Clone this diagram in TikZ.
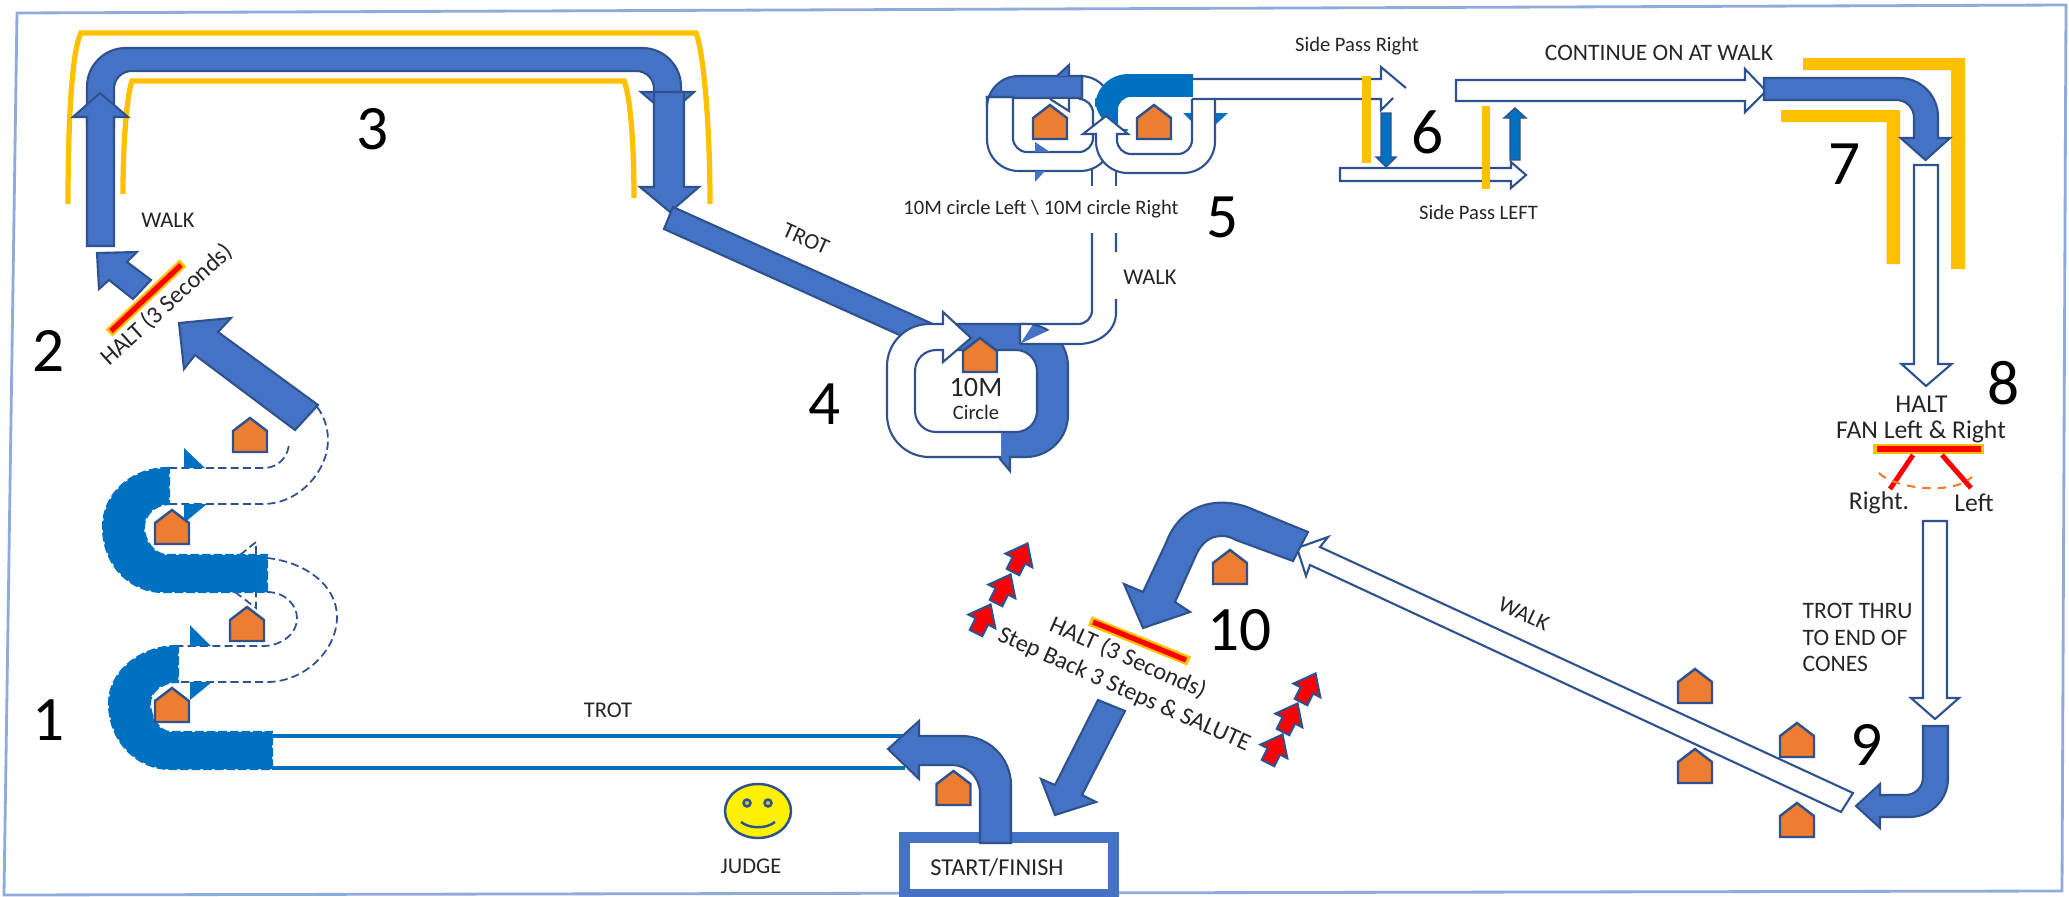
\documentclass[tikz,border=0pt]{standalone}
\usepackage{fontspec}
\setmainfont{Carlito}
\usepackage{xcolor}
\usetikzlibrary{positioning}
\definecolor{arrowFill}{HTML}{4472C4}
\definecolor{arrowEdge}{HTML}{2F528F}
\definecolor{routeBlue}{HTML}{0070C0}
\definecolor{coneOrange}{HTML}{ED7D31}
\definecolor{barYellow}{HTML}{FFC000}
\definecolor{frameBlue}{HTML}{8FAADC}
\tikzset{
  courseArrow/.style={fill=arrowFill, draw=arrowEdge, line width=0.6pt, line join=miter},
  whiteArrow/.style={fill=white, draw=arrowEdge, line width=0.6pt},
  routeFill/.style={fill=routeBlue, draw=routeBlue, line width=0.6pt, dash pattern=on 2.5pt off 0.8pt},
  routeDash/.style={draw=arrowEdge, line width=0.5pt, dash pattern=on 2.3pt off 1.2pt},
  coneMark/.style={fill=coneOrange, draw=arrowEdge, line width=0.7pt},
  redStep/.style={fill=red, draw=arrowEdge, line width=0.6pt},
  railThin/.style={draw=barYellow, line width=1.5pt},
  haltYellow/.style={draw=barYellow, line width=2.8pt},
  haltRed/.style={draw=red, line width=1.5pt},
  labelText/.style={font=\fontsize{6.4}{7.7}\selectfont, text=black!85, inner sep=0pt},
  labelSmall/.style={font=\fontsize{5.85}{7}\selectfont, text=black!85, inner sep=0pt},
  labelWide/.style={font=\fontsize{6.9}{8}\selectfont, text=black!85, inner sep=0pt},
  labelLarge/.style={font=\fontsize{7.3}{8.5}\selectfont, text=black!85, inner sep=0pt},
  stepNum/.style={font=\fontsize{18}{20}\selectfont, text=black, inner sep=0pt}
}
\begin{document}
\begin{tikzpicture}[x=0.01cm, y=-0.01cm]
  \useasboundingbox (0,0) rectangle (2069,897);
  \fill[white] (0,0) rectangle (2069,897);
  \draw[frameBlue, line width=0.8pt] (17,13) -- (2066,5) -- (2062,891) -- (4,895) -- cycle;

  % yellow rails at 3
  \draw[railThin] (68,204) .. controls (68,120) and (72,50) .. (81,33) -- (696,33) .. controls (703,50) and (710,120) .. (710,204);
  \draw[railThin] (123,194) .. controls (123,140) and (127,95) .. (132,81) -- (624,81) .. controls (630,95) and (634,140) .. (634,198);

  % 3 course
  \draw[courseArrow] (87,125) [rounded corners=11pt] -- (87,48) -- (681,48) [sharp corners] -- (681,92) -- (694,92) -- (668,115) -- (641,92) -- (654,92) [rounded corners=5pt] -- (654,71) -- (114,71) [sharp corners] -- (114,125) -- cycle;
  \draw[courseArrow] (87,246) -- (87,117) -- (73,117) -- (100,93) -- (128,117) -- (114,117) -- (114,246) -- cycle;
  \draw[courseArrow] (654,92) -- (684,92) -- (684,187) -- (699,187) -- (670,212) -- (640,187) -- (654,187) -- cycle;

  % 2 halt
  \draw[courseArrow] (151,280) -- (127,262) -- (137,252) -- (97,253) -- (99,289) -- (109,280) -- (133,299) -- cycle;
  \draw[haltYellow] (109,333) -- (183,263);
  \draw[haltRed] (111,331) -- (181,265);
  \draw[courseArrow] (318,405) -- (218,332) -- (231,318) -- (179,323) -- (184,369) -- (195,355) -- (295,430) -- cycle;

  % 1 serpentine
  \draw[routeDash] (169,468) -- (263,468) .. controls (280,468) and (289,455) .. (289,442);
  \draw[routeDash] (169,504) -- (263,504) .. controls (300,504) and (328,470) .. (328,440) .. controls (328,425) and (322,413) .. (317,407);
  \draw[routeDash] (267,558) .. controls (305,562) and (337,585) .. (337,617) .. controls (337,650) and (305,682) .. (267,682) -- (177,682);
  \draw[routeDash] (267,592) .. controls (285,592) and (297,605) .. (297,618) .. controls (297,635) and (280,646) .. (263,646) -- (178,646);
  \draw[routeDash] (240,555) -- (256,542) -- (256,555);
  \draw[routeDash] (235,592) -- (256,608) -- (256,592);
  \draw[routeFill] (169,468) .. controls (130,468) and (103,495) .. (103,527) .. controls (103,565) and (130,592) .. (163,592) -- (267,592) -- (267,555) -- (167,555) .. controls (155,555) and (144,542) .. (144,527) .. controls (144,515) and (155,504) .. (169,504) -- cycle;
  \draw[routeFill] (178,646) .. controls (140,646) and (109,672) .. (109,703) .. controls (109,742) and (138,769) .. (170,769) -- (272,769) -- (272,732) -- (170,732) .. controls (160,732) and (150,718) .. (150,703) .. controls (150,693) and (160,682) .. (178,682) -- cycle;
  \fill[routeBlue] (184,448) -- (205,468) -- (184,468) -- cycle;
  \fill[routeBlue] (207,504) -- (184,523) -- (184,504) -- cycle;
  \fill[routeBlue] (190,625) -- (211,646) -- (190,646) -- cycle;
  \fill[routeBlue] (212,682) -- (190,700) -- (190,682) -- cycle;
  \draw[routeBlue, line width=1.2pt] (272,736) -- (905,736) (272,768) -- (905,768);

  % start box
  \draw[draw=arrowFill, line width=3.1pt] (904.5,837.5) rectangle (1113.5,894);
  \draw[courseArrow] (980,843) [rounded corners=8pt] -- (980,765) [sharp corners] -- (919,765) -- (919,779) -- (888,749) -- (919,721) -- (919,736) [rounded corners=14pt] -- (1011,736) [sharp corners] -- (1011,843) -- cycle;

  % 4 circle
  \draw[courseArrow] (673,207) -- (935,325) -- (904,337) -- (664,229) -- cycle;
  \draw[courseArrow] (945,324) [rounded corners=12pt] -- (1068,324) -- (1068,457) [sharp corners] -- (1010,457) -- (1010,471) -- (1000,459) -- (1000,432) [rounded corners=6pt] -- (1037,432) -- (1037,350) [sharp corners] -- (950,350) -- cycle;
  \draw[whiteArrow] (1001,457) [rounded corners=12pt] -- (887,457) -- (887,324) [sharp corners] -- (943,324) -- (943,312) -- (971,338) -- (943,362) -- (943,350) [rounded corners=6pt] -- (915,350) -- (915,432) [sharp corners] -- (1001,432);
  \draw[whiteArrow] (1020,344) -- (1078,344) .. controls (1100,344) and (1116,330) .. (1116,313) -- (1116,299) (1116,252) -- (1116,233) (1092,233) -- (1092,310) .. controls (1092,318) and (1086,324) .. (1078,324) -- (1020,324) -- (1020,344);
  \draw[arrowEdge, line width=0.8pt] (1092,186) -- (1092,168) (1116,186) -- (1116,168);

  % 5 circles
  \draw[whiteArrow] (987,97) [rounded corners=9pt] -- (987,171) -- (1112,171) -- (1112,76) [sharp corners] -- (1082,76) -- (1082,99) [rounded corners=4pt] -- (1093,99) -- (1093,152) -- (1013,152) [sharp corners] -- (1013,97) -- cycle;
  \draw[courseArrow] (987,97) [rounded corners=9pt] -- (987,76) [sharp corners] -- (1082,76) -- (1082,98) -- (1013,98) -- (1013,97) -- cycle;
  \draw[courseArrow] (1057,76) -- (1069,65) -- (1069,76);
  \draw[whiteArrow] (1050,99) -- (1069,111) -- (1069,99);
  \fill[arrowFill] (1035,142) -- (1050,152) -- (1035,152) -- cycle;
  \fill[arrowFill] (1035,182) -- (1035,171) -- (1045,171) -- cycle;
  \draw[routeBlue, fill=routeBlue, line width=0.5pt] (1192,75) [rounded corners=9pt] -- (1096,75) -- (1096,130) [sharp corners] -- (1117,130) [rounded corners=4pt] -- (1117,96) [sharp corners] -- (1192,96) -- cycle;
  \fill[routeBlue] (1215,113) -- (1228,113) -- (1215,125) -- cycle;
  \fill[routeBlue] (1183,113) -- (1192,113) -- (1192,122) -- cycle;
  \draw[whiteArrow] (1215,99) [rounded corners=9pt] -- (1215,173) -- (1096,173) [sharp corners] -- (1096,134) -- (1083,134) -- (1106,116) -- (1128,134) -- (1117,134) [rounded corners=4pt] -- (1117,154) -- (1192,154) [sharp corners] -- (1192,99);

  % 6 side pass
  \draw[whiteArrow] (1192,79) -- (1381,79) -- (1381,67) -- (1406,88) (1393,98) -- (1381,110) -- (1381,99) -- (1192,99);
  \draw[draw=arrowEdge, fill=routeBlue, line width=0.4pt] (1381,113) -- (1391,113) -- (1391,157) -- (1396,157) -- (1386,167) -- (1376,157) -- (1381,157) -- cycle;
  \draw[whiteArrow] (1340,168) -- (1511,168) -- (1511,162) -- (1526,175) -- (1511,188) -- (1511,181) -- (1340,181) -- cycle;
  \draw[barYellow, line width=2.5pt] (1366.5,76) -- (1366.5,163);
  \draw[barYellow, line width=2.5pt] (1486,106) -- (1486,189);
  \draw[draw=arrowEdge, fill=routeBlue, line width=0.4pt] (1510,160) -- (1520,160) -- (1520,118) -- (1526,118) -- (1515,108) -- (1504,118) -- (1510,118) -- cycle;

  % 7 corner
  \fill[barYellow] (1803,58) -- (1965,58) -- (1965,269) -- (1951,269) -- (1951,70) -- (1803,70) -- cycle;
  \fill[barYellow] (1781,110) -- (1900,110) -- (1900,264) -- (1886.5,264) -- (1886.5,122) -- (1781,122) -- cycle;
  \draw[whiteArrow] (1456,80) -- (1745,80) -- (1745,69) -- (1766,91) -- (1745,112) -- (1745,101) -- (1456,101) -- cycle;
  \draw[courseArrow] (1764,78) [rounded corners=11pt] -- (1938,78) [sharp corners] -- (1938,138) -- (1950,138) -- (1925.5,160) -- (1900.6,138) -- (1914,138) [rounded corners=5pt] -- (1914,100) [sharp corners] -- (1764,100) -- cycle;

  % 8 fan
  \draw[whiteArrow] (1914,165) -- (1938,165) -- (1938,364) -- (1951.6,364) -- (1926,386) -- (1901.5,364) -- (1914,364) -- cycle;
  \draw[haltYellow] (1873,449) -- (1984,449);
  \draw[haltRed] (1877,449) -- (1981,449);
  \draw[red, line width=1.4pt] (1913,455) -- (1890,489) (1942,455) -- (1971,488);
  \draw[coneOrange, line width=0.6pt, dash pattern=on 2.4pt off 2pt] (1879,473) .. controls (1892,487) and (1950,497) .. (1972,477);

  % 9 and 10
  \draw[whiteArrow] (1923,521) -- (1947,521) -- (1947,698) -- (1959,698) -- (1935,719) -- (1911,698) -- (1923,698) -- cycle;
  \draw[courseArrow] (1923,726) -- (1948,726) [rounded corners=11pt] -- (1948,817) [sharp corners] -- (1880,817) -- (1880,828) -- (1856,806) -- (1880,784) -- (1880,795) [rounded corners=5pt] -- (1923,795) [sharp corners] -- cycle;
  \foreach \cx/\cy in {250/452, 172/544, 247/641, 172/722, 980/372, 1050/139, 1154/139, 953.5/805, 1230/584, 1695/703, 1797/757, 1695/783, 1797/837}
    \draw[coneMark] (\cx-17,\cy) -- (\cx-17,\cy-21) -- (\cx,\cy-34) -- (\cx+17,\cy-21) -- (\cx+17,\cy) -- cycle;
  \draw[whiteArrow] (1853,793) -- (1841,812) -- (1310,565) -- (1306,576) -- (1297,548) -- (1328,537) -- (1320,547) -- cycle;
  \draw[courseArrow] (1308,532) -- (1247,507) .. controls (1215,496) and (1180,505) .. (1166,543) -- (1143,592) -- (1124,584) -- (1143,628) -- (1190,612) -- (1175,602) -- (1196,555) .. controls (1205,535) and (1222,532) .. (1236,540) -- (1293,561) -- cycle;
  \draw[haltYellow] (1090,621) -- (1189,661);
  \draw[haltRed] (1093,622) -- (1186,660);
  \draw[courseArrow] (1098,700) -- (1125,711) -- (1082,795) -- (1096,802) -- (1055,815) -- (1041,779) -- (1055,785) -- cycle;
  \foreach \tx/\ty in {976/633, 996/603, 1013/572, 1268/763, 1283/732, 1301/702}
    \draw[redStep, shift={(\tx,\ty)}, rotate=-27] (-7,0) -- (-7,-13) -- (-15,-13) -- (0,-32) -- (15,-13) -- (7,-13) -- (7,0) -- cycle;

  % judge
  \draw[fill=yellow, draw=arrowEdge, line width=0.7pt] (758,811) ellipse [x radius=33, y radius=27];
  \draw[fill=yellow!70!arrowEdge, draw=arrowEdge, line width=0.7pt] (747,803) circle (3.5) (768,803) circle (3.5);
  \draw[arrowEdge, line width=0.7pt] (741,822) .. controls (750,829) and (766,829) .. (775,822);

  % numbers
  \node[stepNum] (numOne) at (49,720) {1};
  \node[stepNum] (numTwo) at (49,351) {2};
  \node[stepNum] (numThree) at (373,129) {3};
  \node[stepNum] (numFour) at (825,404) {4};
  \node[stepNum] (numFive) at (1223,217) {5};
  \node[stepNum] (numSix) at (1428,132) {6};
  \node[stepNum] (numSeven) at (1845,164) {7};
  \node[stepNum] (numEight) at (2003.5,383) {8};
  \node[stepNum] (numNine) at (1867,745) {9};
  \node[stepNum] (numTen) at (1239.5,630) {10};

  % labels
  \node[labelText] (walkOne) at (168,220) {WALK};
  \node[labelWide, rotate=42] (haltTwo) at (167,305) {HALT (3 Seconds)};
  \node[labelText, rotate=-24] (trotFour) at (806,239) {TROT};
  \node[labelText] (trotOne) at (608,710) {TROT};
  \node[labelText] (judgeLabel) at (751,866) {JUDGE};
  \node[labelWide] (startLabel) at (997,868) {START/FINISH};
  \node[labelLarge, font=\fontsize{8}{9}\selectfont] (tenMeter) at (976,387) {10M};
  \node[labelSmall] (circleLabel) at (976,412) {Circle};
  \node[labelSmall] (circleLeftRight) at (1041,209) {10M circle Left \textbackslash{} 10M circle Right};
  \node[labelText] (walkFive) at (1150,277) {WALK};
  \node[labelSmall] (passRight) at (1357,46) {Side Pass Right};
  \node[labelSmall] (passLeft) at (1478.5,212) {Side Pass LEFT};
  \node[labelWide, font=\fontsize{6.7}{8}\selectfont] (continueWalk) at (1659,53) {CONTINUE ON AT WALK};
  \node[labelLarge] (haltEight) at (1921.6,404) {HALT};
  \node[labelLarge] (fanLabel) at (1921,432) {FAN Left \& Right};
  \node[labelLarge] (rightLabel) at (1879,503) {Right.};
  \node[labelLarge] (leftLabel) at (1974,503) {Left};
  \node[labelText, align=left, anchor=north west, font=\fontsize{6.7}{7.4}\selectfont] (trotThru) at (1802,603) {TROT THRU\\TO END OF\\CONES};
  \node[labelText, rotate=-25] (walkNine) at (1524,614) {WALK};
  \node[labelWide, rotate=-24] (haltTen) at (1128,658) {HALT (3 Seconds)};
  \node[labelWide, rotate=-24] (stepBack) at (1124,690) {Step Back 3 Steps \& SALUTE};
\end{tikzpicture}
\end{document}
